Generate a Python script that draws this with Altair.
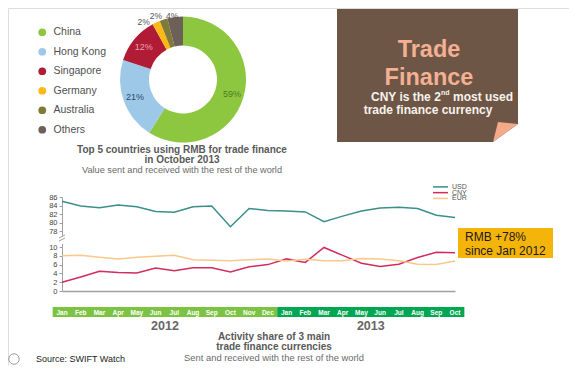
import altair as alt
import pandas as pd

# ---------------- data ----------------
countries = ["China", "Hong Kong", "Singapore", "Germany", "Australia", "Others"]
shares = [59, 21, 12, 2, 2, 4]
country_colors = ["#8DC63F", "#9DC8E8", "#B01C35", "#FDB913", "#7D7A3A", "#6D6058"]
share_label_colors = ["#4E7D25", "#2E4A66", "#E9A3AE", "#555555", "#555555", "#555555"]

months = ["Jan", "Feb", "Mar", "Apr", "May", "Jun", "Jul", "Aug", "Sep", "Oct", "Nov", "Dec",
          "Jan", "Feb", "Mar", "Apr", "May", "Jun", "Jul", "Aug", "Sep", "Oct"]
usd = [85.0, 83.9, 83.5, 84.1, 83.7, 82.6, 82.4, 83.7, 83.9, 79.0, 83.3, 82.8,
       82.7, 82.5, 80.2, 81.5, 82.7, 83.4, 83.6, 83.3, 81.7, 81.2]
cny = [2.0, 3.2, 4.5, 4.2, 4.1, 5.2, 4.6, 5.3, 5.3, 4.3, 5.5, 6.0,
       7.3, 6.5, 9.9, 8.1, 6.3, 5.6, 6.1, 7.6, 8.8, 8.7]
eur = [8.0, 8.1, 7.7, 7.3, 7.7, 7.9, 8.1, 7.1, 7.0, 6.9, 7.1, 7.3,
       6.8, 7.2, 6.9, 6.9, 7.4, 7.3, 6.9, 6.1, 6.0, 6.8]
series_names = ["USD", "CNY", "EUR"]
series_colors = ["#3A8E8C", "#D22B5E", "#F9C88A"]

years = ["2012", "2013"]
year_start = [-0.5, 11.5]
year_end = [11.5, 21.5]
year_colors = ["#7CC243", "#00A651"]

upper_ticks = [78, 80, 82, 84, 86]
lower_ticks = [0, 2, 4, 6, 8, 10]

# ---------------- helpers ----------------
W, H = 561, 357
OX, OY = 8, 8  # page margin


def px(x):
    return x - OX


def py(y):
    return y - OY


FONT = "Liberation Sans"
one = alt.Data(values=[{}])


def label(txt, x, y, size, color="#595959", weight="normal", align="center", baseline="middle"):
    return alt.Chart(one).mark_text(
        text=txt, fontSize=size, fontWeight=weight, color=color, align=align,
        baseline=baseline, font=FONT
    ).encode(x=alt.value(px(x)), y=alt.value(py(y)))


def box(x1, y1, x2, y2, color):
    return alt.Chart(one).mark_rect(color=color).encode(
        x=alt.value(px(x1)), x2=alt.value(px(x2)), y=alt.value(py(y1)), y2=alt.value(py(y2))
    )


# ---------------- donut ----------------
donut_df = pd.DataFrame({"country": countries, "share": shares, "order": list(range(len(countries)))})
cx, cy = px(183), py(79.5)
donut_base = alt.Chart(donut_df).encode(
    theta=alt.Theta("share:Q", stack=True),
    order=alt.Order("order:Q"),
    x=alt.value(cx),
    y=alt.value(cy),
)
arc = donut_base.mark_arc(innerRadius=34, outerRadius=63).encode(
    color=alt.Color(
        "country:N", sort=countries,
        scale=alt.Scale(domain=countries, range=country_colors),
        legend=alt.Legend(
            title=None, orient="none", legendX=px(37), legendY=py(27),
            symbolType="circle", symbolSize=60, symbolStrokeWidth=0,
            labelFontSize=10.5, labelColor="#505050", labelFont=FONT,
            rowPadding=8.5, labelOffset=6,
        ),
    )
)
lab_colors = alt.Color("country:N", scale=alt.Scale(domain=countries, range=share_label_colors), legend=None)
in_labels = donut_base.transform_calculate(
    lab="datum.share >= 10 ? datum.share + '%' : ''"
).mark_text(radius=51, fontSize=9, font=FONT).encode(text="lab:N", color=lab_colors)

# small slices: labelled just outside the ring, nudged apart
stacked = alt.Chart(donut_df).transform_stack(
    stack="share", as_=["s0", "s1"], groupby=[], sort=[alt.SortField("order")]
).transform_calculate(mid="(datum.s0 + datum.s1) / 2", lab="datum.share + '%'")


def small_label(name, dx, dy):
    return stacked.transform_filter(alt.datum.country == name).mark_text(
        radius=62, fontSize=8.5, font=FONT, dx=dx, dy=dy, color="#555555"
    ).encode(theta=alt.Theta("mid:Q", stack=None), text="lab:N", x=alt.value(cx), y=alt.value(cy))


out_labels = [small_label("Germany", -13, -1), small_label("Australia", -8, -4.5), small_label("Others", -3, -2)]

# ---------------- lines ----------------
idx = list(range(len(months)))
usd_df = pd.DataFrame({"idx": idx, "series": "USD", "value": usd})
low_df = pd.concat([
    pd.DataFrame({"idx": idx, "series": "CNY", "value": cny}),
    pd.DataFrame({"idx": idx, "series": "EUR", "value": eur}),
])

x_scale = alt.Scale(domain=[0, 21], range=[px(62), px(455)], nice=False, zero=False)
x_axis = alt.Axis(orient="bottom", offset=-(H - py(291)), labels=False, ticks=False, grid=False,
                  title=None, domainColor="#A0A0A0", domainWidth=1.5)

y_axis_common = dict(orient="left", offset=-px(62), grid=False, title=None, tickSize=3,
                     tickColor="#A0A0A0", domainColor="#A0A0A0", labelFontSize=7.5,
                     labelColor="#444444", labelFont=FONT, labelPadding=2)

series_scale = alt.Scale(domain=series_names, range=series_colors)

usd_line = alt.Chart(usd_df).mark_line(strokeWidth=1.5).encode(
    x=alt.X("idx:Q", scale=x_scale, axis=x_axis),
    y=alt.Y("value:Q", scale=alt.Scale(domain=[77, 86], range=[py(235.3), py(197)], nice=False, zero=False),
            axis=alt.Axis(values=upper_ticks, **y_axis_common)),
    color=alt.Color("series:N", scale=series_scale, legend=None),
)
low_line = alt.Chart(low_df).mark_line(strokeWidth=1.5).encode(
    x=alt.X("idx:Q", scale=x_scale, axis=x_axis),
    y=alt.Y("value:Q", scale=alt.Scale(domain=[0, 10.8], range=[py(291), py(243.5)], nice=False, zero=False),
            axis=alt.Axis(values=lower_ticks, **y_axis_common)),
    color=alt.Color("series:N", scale=series_scale, legend=None),
    detail="series:N",
)

# line legend (drawn from the series list)
leg_df = pd.DataFrame({"series": series_names})
leg_y = alt.Y("series:N", scale=alt.Scale(type="point", domain=series_names, range=[py(184), py(201.3)]), axis=None)
leg_lines = alt.Chart(leg_df).mark_rule(strokeWidth=1.5).encode(
    x=alt.value(px(433)), x2=alt.value(px(448)), y=leg_y,
    color=alt.Color("series:N", scale=series_scale, legend=None),
)
leg_text = alt.Chart(leg_df).mark_text(
    fontSize=7, color="#555555", font=FONT, align="left", baseline="middle"
).encode(x=alt.value(px(452)), y=leg_y, text="series:N")

# axis break marks
brk1 = alt.Chart(one).mark_rule(color="#A0A0A0", strokeWidth=1).encode(
    x=alt.value(px(59)), x2=alt.value(px(65)), y=alt.value(py(238)), y2=alt.value(py(235)))
brk2 = alt.Chart(one).mark_rule(color="#A0A0A0", strokeWidth=1).encode(
    x=alt.value(px(59)), x2=alt.value(px(65)), y=alt.value(py(241)), y2=alt.value(py(238)))

# month strip
year_df = pd.DataFrame({"year": years, "start": year_start, "end": year_end})
year_bars = alt.Chart(year_df).mark_rect().encode(
    x=alt.X("start:Q", scale=x_scale, axis=x_axis),
    x2="end:Q",
    y=alt.value(py(307)), y2=alt.value(py(317)),
    color=alt.Color("year:N", scale=alt.Scale(domain=years, range=year_colors), legend=None),
)
month_df = pd.DataFrame({"idx": idx, "month": months})
month_labels = alt.Chart(month_df).mark_text(
    fontSize=6.5, fontWeight="bold", color="white", font=FONT, baseline="middle"
).encode(x=alt.X("idx:Q", scale=x_scale, axis=x_axis), y=alt.value(py(312.5)), text="month:N")
year_labels = alt.Chart(year_df).transform_calculate(mid="(datum.start + datum.end) / 2").mark_text(
    fontSize=12.5, fontWeight="bold", color="#666666", font=FONT, baseline="middle"
).encode(x=alt.X("mid:Q", scale=x_scale, axis=x_axis), y=alt.value(py(326)), text="year:N")

# ---------------- trade finance panel ----------------
brown = box(337, 9, 518, 142, "#6E5646")
white_tri = alt.Chart(one).mark_point(
    shape="M 1 -0.54 L 1.3 1.2 L -0.92 1.2 L -0.92 0.85 Z", size=676, filled=True,
    color="white", opacity=1, strokeWidth=0
).encode(x=alt.value(px(505)), y=alt.value(py(131)))
salmon_tri = alt.Chart(one).mark_point(
    shape="M -0.54 -0.69 L 1 -0.54 L -0.92 0.85 Z", size=676, filled=True,
    color="#F2AA8A", opacity=1, strokeWidth=0
).encode(x=alt.value(px(505)), y=alt.value(py(131)))

tf_color = "#F3B093"
t_trade = label("Trade", 429, 49.5, 23.5, tf_color, "bold")
t_finance = label("Finance", 429, 77.5, 23.5, tf_color, "bold")
t_cny1 = label("CNY is the 2", 371, 97, 12, "#F7F2EC", "bold", align="left")
t_cny_sup = label("nd", 441, 93, 7, "#F7F2EC", "bold", align="left")
t_cny2 = label("most used", 453, 97, 12, "#F7F2EC", "bold", align="left")
t_cny3 = label("trade finance currency", 428, 110, 12, "#F7F2EC", "bold")

# ---------------- titles ----------------
d_t1 = label("Top  5 countries using RMB for trade finance", 182, 150, 10, "#595959", "bold")
d_t2 = label("in October 2013", 182, 160, 10, "#595959", "bold")
d_t3 = label("Value sent and received with  the rest of the world", 182, 170, 9.2, "#6A6A6A")

l_t1 = label("Activity share of 3 main", 274, 337, 10, "#595959", "bold")
l_t2 = label("trade finance currencies", 274, 347, 10, "#595959", "bold")
l_t3 = label("Sent and received with the rest of the world", 274, 358, 9.4, "#6A6A6A")

# callout
callout = box(458, 228, 553, 258, "#F5B40A")
c1 = label("RMB  +78%", 465, 237, 12, "#1A1A1A", align="left")
c2 = label("since Jan 2012", 465, 251, 12, "#1A1A1A", align="left")

# source
globe = alt.Chart(one).mark_point(shape="circle", size=110, filled=False, color="#777777", strokeWidth=1).encode(
    x=alt.value(px(14)), y=alt.value(py(359)))
src = label("Source: SWIFT Watch", 36, 359, 9, "#222222", align="left")

chart = alt.layer(
    arc, in_labels, *out_labels,
    brown, white_tri, salmon_tri, t_trade, t_finance, t_cny1, t_cny_sup, t_cny2, t_cny3,
    d_t1, d_t2, d_t3,
    usd_line, low_line, leg_lines, leg_text, brk1, brk2,
    year_bars, month_labels, year_labels,
    l_t1, l_t2, l_t3,
    callout, c1, c2,
    globe, src,
).resolve_scale(
    y="independent", color="independent"
).properties(
    width=W, height=H, autosize=alt.AutoSizeParams(type="none"), padding=0
).configure_view(strokeWidth=0).configure(font=FONT, background="white")

chart.save("out.html", embed_options={"renderer": "svg", "actions": False})
